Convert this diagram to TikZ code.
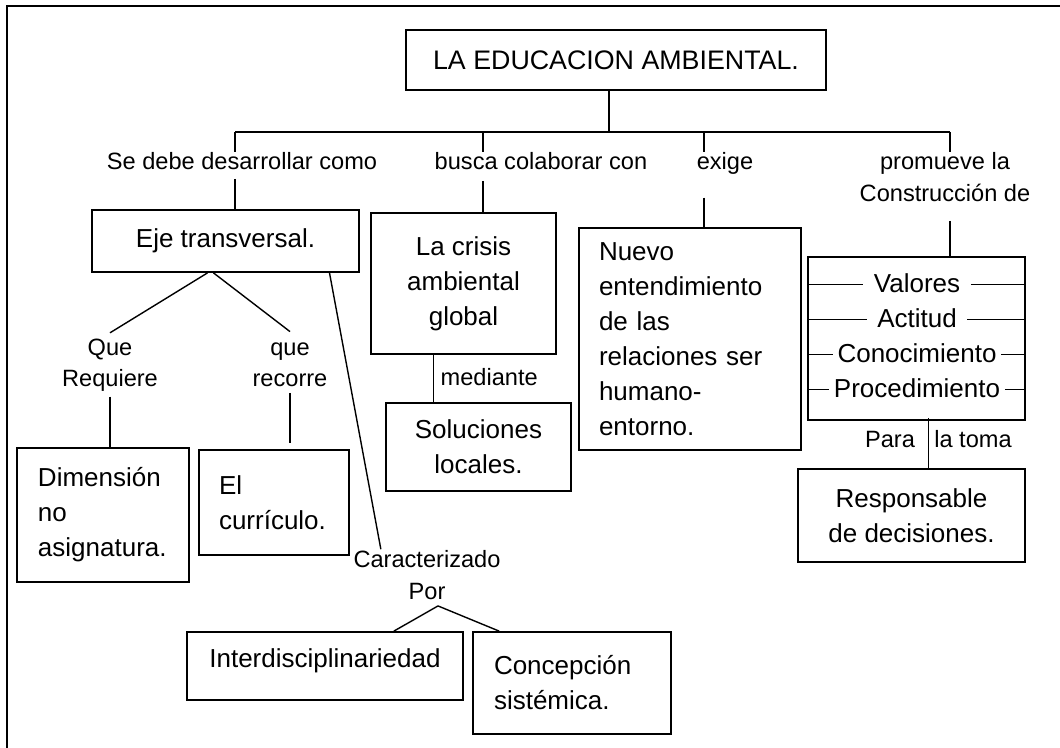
\documentclass[tikz,border=0pt]{standalone}
\usepackage{fontspec}
\setmainfont{Liberation Sans}
\usepackage{tikz}
\newcommand{\fuentecaja}{\fontsize{13}{17.5}\selectfont}
\newcommand{\fuenteetiq}{\fontsize{11.8}{16}\selectfont}
\tikzstyle{caja}=[draw, line width=0.9pt, inner sep=0pt, font=\fuentecaja, align=center]
\tikzstyle{etiq}=[inner sep=0pt, font=\fuenteetiq, align=center]
\tikzstyle{item}=[inner ysep=0pt, inner xsep=5pt, font=\fuentecaja, text height=8.5pt, text depth=0pt]

\begin{document}
\begin{tikzpicture}[x=0.5pt, y=-0.5pt, line width=0.7pt]
\useasboundingbox (0,0) rectangle (1060,748);
\draw[line width=1pt] (7,748) -- (7,6) -- (1060,6);
\node[caja, font=\fontsize{13.4}{16}\selectfont, minimum width=210pt, minimum height=30pt] (titulo) at (616,60) {LA EDUCACION AMBIENTAL.};
\coordinate (rt) at (609,132);
\coordinate (r1) at (235,132);
\coordinate (r2) at (483,132);
\coordinate (r3) at (704,132);
\coordinate (r4) at (950,132);
\node[etiq, anchor=base] (desarrollar) at (242,170) {Se debe desarrollar como};
\node[etiq, anchor=base] (busca) at (541,170) {busca colaborar con};
\node[etiq, anchor=base] (exige) at (725,170) {exige};
\node[etiq, anchor=base] (promueve) at (945,202) {promueve la\\Construcción de};
\node[caja, minimum width=133.5pt, minimum height=31pt] (eje) at (225.5,241) {Eje transversal.};
\node[caja, minimum width=92.5pt, minimum height=70.5pt] (crisis) at (463.5,283.5) {La crisis\\ambiental\\global};
\node[caja, align=left, text width=91pt, inner xsep=10pt, minimum height=111pt] (nuevo) at (690,339) {Nuevo\\entendimiento\\de las\\relaciones ser\\humano-\\entorno.};
\node[caja, minimum width=108.5pt, minimum height=81.5pt] (lista) at (916.5,338.5) {};
\node[item] (valores) at (917,284.5) {Valores};
\node[item] (actitud) at (917,319.5) {Actitud};
\node[item, inner xsep=2pt] (conocimiento) at (917,354.5) {Conocimiento};
\node[item, inner xsep=2pt] (procedimiento) at (917,389.5) {Procedimiento};
\node[etiq, anchor=base] (requiere) at (110,387) {Que\\Requiere};
\node[etiq, anchor=base] (recorre) at (290,387) {que\\recorre};
\node[caja, align=left, text width=65pt, inner xsep=10.5pt, minimum height=67pt] (dimension) at (103,515) {Dimensión\\no\\asignatura.};
\node[caja, align=left, text width=55pt, inner xsep=10pt, minimum height=52.5pt] (curriculo) at (274,502.5) {El\\currículo.};
\node[etiq, anchor=base] (caracterizado) at (427,599) {Caracterizado\\Por};
\node[caja, text depth=7.5pt, minimum width=138pt, minimum height=34pt] (inter) at (325,666) {Interdisciplinariedad};
\node[caja, align=left, text width=78pt, inner xsep=10.5pt, minimum height=51pt] (concepcion) at (572,683) {Concepción\\sistémica.};
\node[caja, minimum width=92.5pt, minimum height=44pt] (soluciones) at (478.5,447) {Soluciones\\locales.};
\node[etiq, anchor=base west] (mediante) at (440,386) {mediante};
\node[caja, minimum width=113.5pt, minimum height=46.5pt] (responsable) at (911.5,515.5) {Responsable\\de decisiones.};
\node[etiq, anchor=base] (para) at (890,448) {Para};
\node[etiq, anchor=base] (toma) at (973,448) {la toma};
\draw (titulo.south -| rt) -- (rt);
\draw (r1) -- (r4);
\draw (r1) -- (r1 |- desarrollar.north);
\draw (r2) -- (r2 |- busca.north);
\draw (r3) -- (r3 |- exige.north);
\draw (r4) -- (r4 |- promueve.north);
\draw[shorten <=4pt] (r1 |- desarrollar.south) -- (r1 |- eje.north);
\draw[shorten <=5pt] (r2 |- busca.south) -- (r2 |- crisis.north);
\draw[shorten <=11pt] (r3 |- exige.south) -- (r3 |- nuevo.north);
\draw[shorten <=9pt] (r4 |- promueve.south) -- (r4 |- lista.north);
\foreach \i in {valores,actitud,conocimiento,procedimiento} {
  \draw (lista.west |- \i) -- (\i.west);
  \draw (\i.east) -- (lista.east |- \i);
}
\draw ([xshift=-9pt]eje.south) -- ([yshift=2.5pt]requiere.north);
\draw ([xshift=-6pt]eje.south) -- ([yshift=5pt]recorre.north);
\draw[shorten <=2pt] (requiere.south) -- (requiere.south |- dimension.north);
\draw[shorten <=2.5pt, shorten >=3pt] (recorre.south) -- (recorre.south |- curriculo.north);
\draw ([xshift=52pt]eje.south) -- ([xshift=14pt]caracterizado.north west);
\draw ([xshift=5.5pt, yshift=-3pt]caracterizado.south) -- ([xshift=-35pt]inter.north east);
\draw ([xshift=5.5pt, yshift=-3pt]caracterizado.south) -- ([xshift=13.5pt]concepcion.north west);
\draw ([xshift=-15pt]crisis.south) -- ([xshift=-15pt]crisis.south |- soluciones.north);
\draw ([xshift=6pt, yshift=1.5pt]lista.south) -- ([xshift=6pt]lista.south |- responsable.north);
\end{tikzpicture}
\end{document}
